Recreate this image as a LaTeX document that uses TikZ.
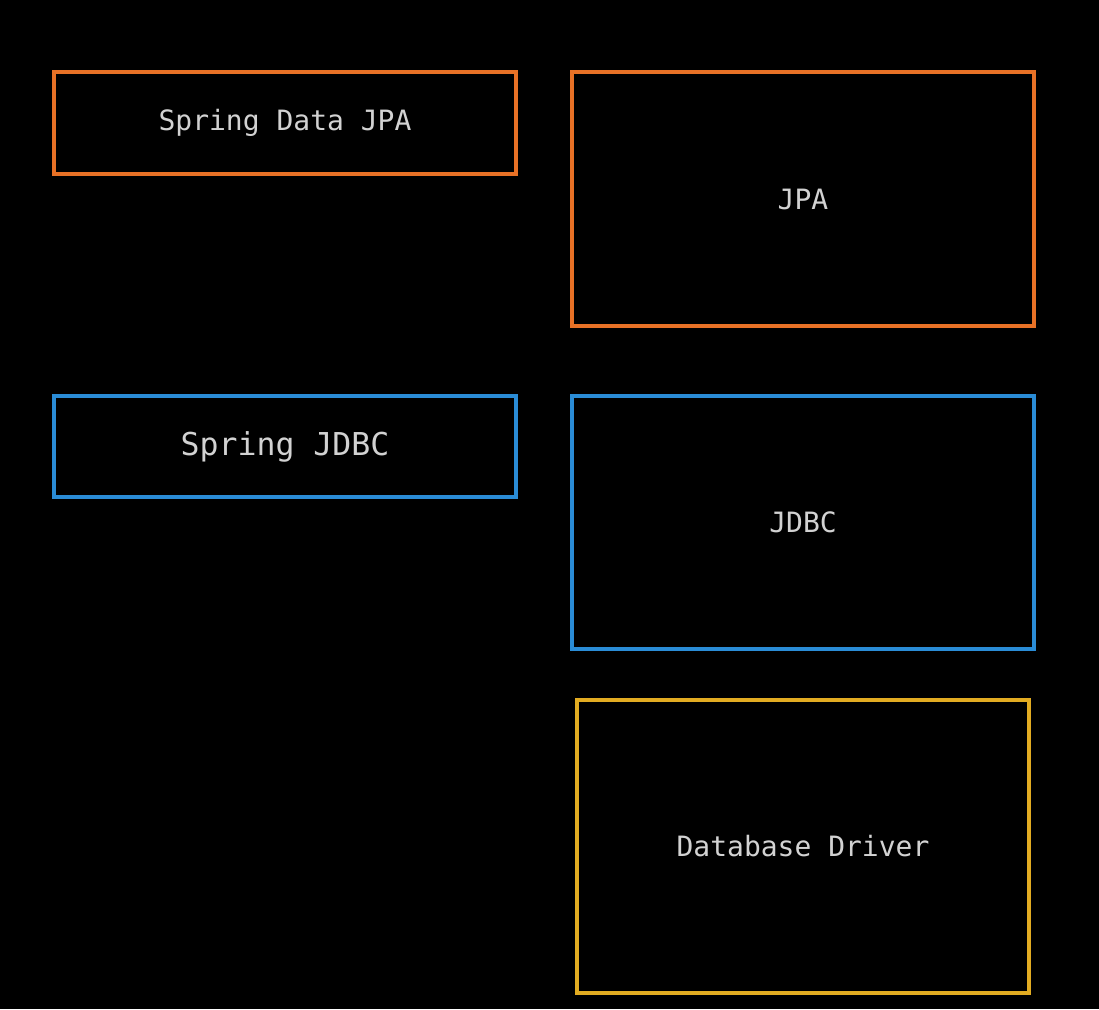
\documentclass[tikz,border=0pt]{standalone}
\usepackage{xcolor}
\usepackage{fontspec}
\setmonofont{DejaVu Sans Mono}
\usepackage{tikz}
\definecolor{jpaorange}{RGB}{232,113,38}
\definecolor{jdbcblue}{RGB}{42,140,214}
\definecolor{drvyellow}{RGB}{226,172,34}
\definecolor{lbl}{RGB}{210,210,210}

\begin{document}
\begin{tikzpicture}[x=1pt,y=-1pt]
                \tikzstyle{layer}=[line width=3.5pt, inner sep=0pt, text=lbl, font=\ttfamily\fontsize{28}{30}\selectfont]
                \fill [black] (0,0) rectangle (1099,1009);
                \useasboundingbox (0,0) rectangle (1099,1009);
                \node [layer, draw=jpaorange, minimum width=462pt, minimum height=102pt] (sdjpa) at (285,123) {Spring Data JPA};
                \node [layer, draw=jpaorange, minimum width=462pt, minimum height=254pt] (jpa) at (803,199) {JPA};
                \node [layer, draw=jdbcblue, minimum width=462pt, minimum height=101pt, font=\ttfamily\fontsize{31.5}{33}\selectfont] (sjdbc) at (285,446.5) {Spring JDBC};
                \node [layer, draw=jdbcblue, minimum width=462pt, minimum height=253pt] (jdbc) at (803,522.5) {JDBC};
                \node [layer, draw=drvyellow, minimum width=452pt, minimum height=293pt] (driver) at (803,846.5) {Database Driver};
            \end{tikzpicture}
\end{document}
